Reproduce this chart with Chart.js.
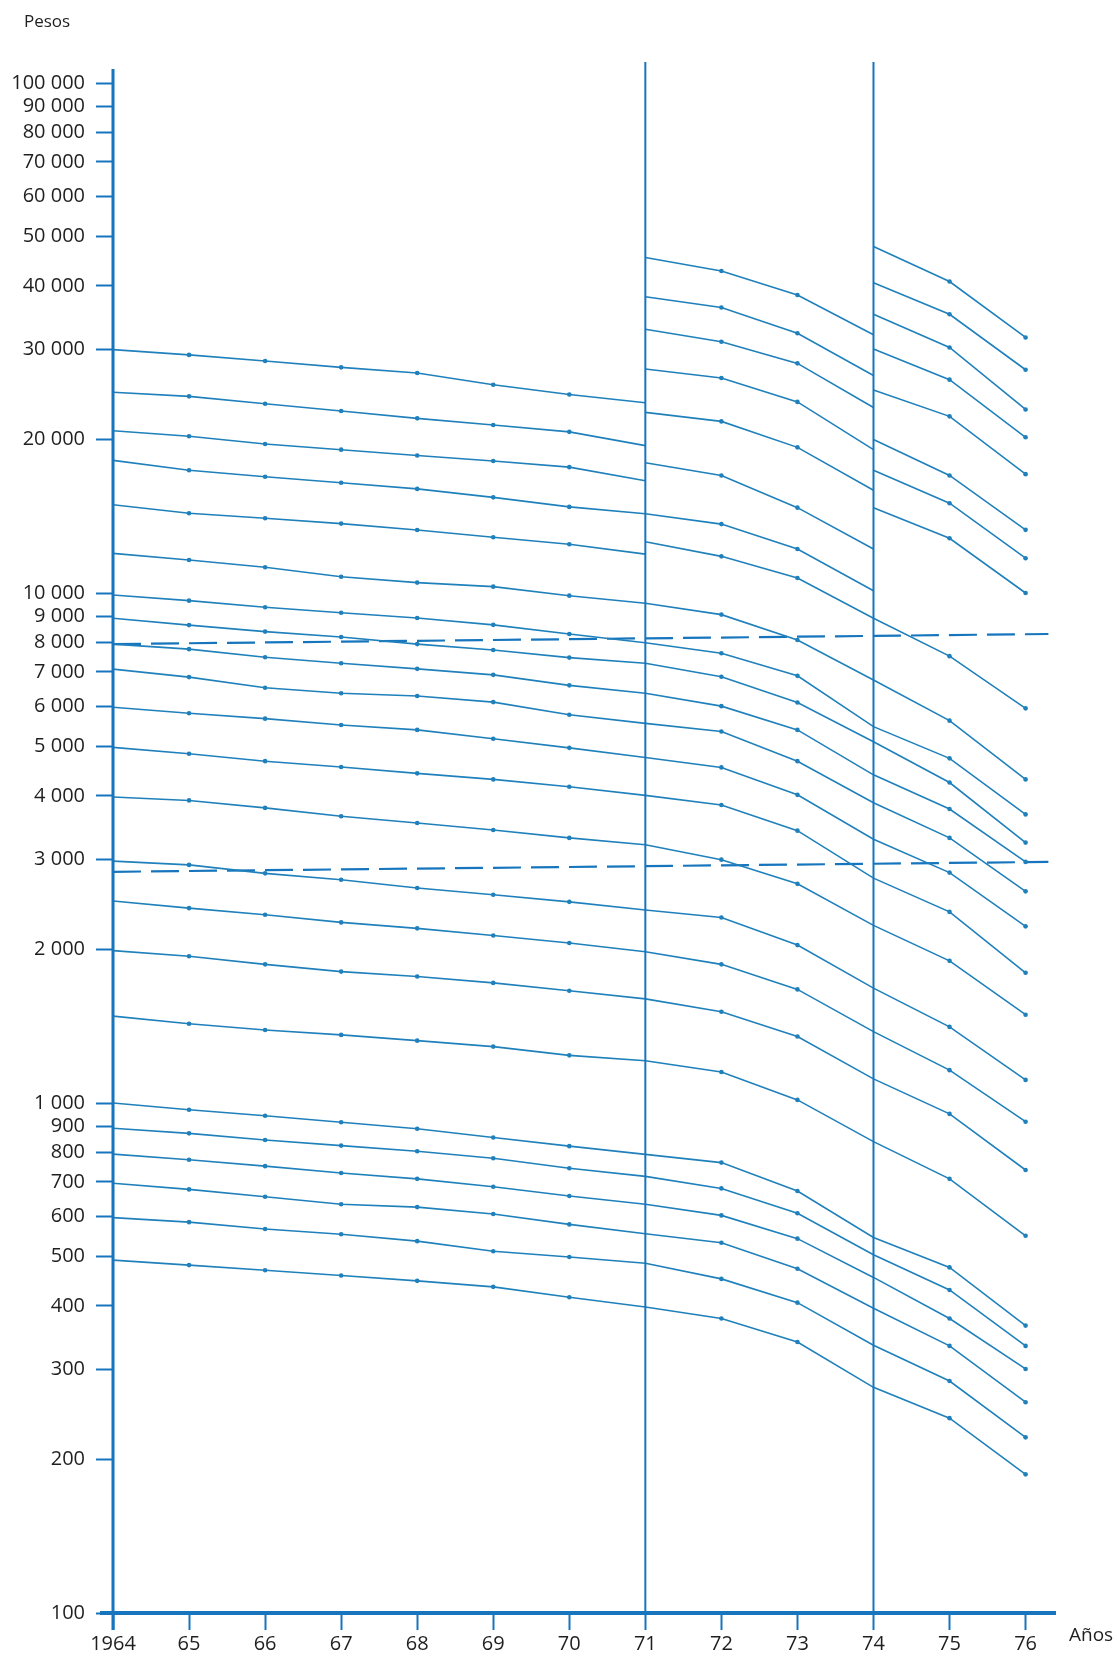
<!DOCTYPE html>
<html>
<head>
<meta charset="utf-8">
<script src="https://cdn.jsdelivr.net/npm/chart.js@4.4.0/dist/chart.umd.min.js"></script>
<style>
  html, body { margin: 0; padding: 0; background: #fff; }
  #wrap { width: 1119px; height: 1657px; }
</style>
</head>
<body>
<div id="wrap"><canvas id="chart" width="1119" height="1657"></canvas></div>
<script>
// --- Data ---
const years = [1964, 1965, 1966, 1967, 1968, 1969, 1970, 1971, 1972, 1973, 1974, 1975, 1976];
const yTicks = [100, 200, 300, 400, 500, 600, 700, 800, 900,
  1000, 2000, 3000, 4000, 5000, 6000, 7000, 8000, 9000,
  10000, 20000, 30000, 40000, 50000, 60000, 70000, 80000, 90000, 100000];
const breakYears = [1971, 1974];

// lines drawn from 1964 (one value per year, null where the line stops)
const lines1964 = [
  [30000, 29300, 28500, 27700, 27000, 25600, 24500, 23600, null, null, null, null, null],
  [24750, 24300, 23500, 22750, 22000, 21350, 20700, 19450, null, null, null, null, null],
  [20800, 20300, 19600, 19100, 18600, 18150, 17650, 16600, null, null, null, null, null],
  [18200, 17400, 16900, 16450, 16000, 15400, 14750, 14300, 13650, 12200, 10100, null, null],
  [14900, 14330, 14010, 13680, 13290, 12860, 12460, 11920, null, null, null, null, null],
  [11960, 11610, 11230, 10760, 10480, 10290, 9880, 9550, 9070, 8090, 6750, 5620, 4310],
  [9910, 9660, 9380, 9150, 8930, 8660, 8310, 7990, 7620, 6880, 5470, 4740, 3680],
  [8920, 8650, 8400, 8200, 7940, 7730, 7470, 7280, 6850, 6100, 5110, 4250, 3240],
  [7940, 7760, 7480, 7280, 7100, 6910, 6590, 6360, 6000, 5390, 4400, 3770, 2970],
  [7090, 6840, 6520, 6360, 6280, 6110, 5770, 5550, 5350, 4680, 3880, 3310, 2600],
  [5970, 5810, 5670, 5510, 5390, 5180, 4970, 4760, 4550, 4020, 3290, 2830, 2220],
  [4980, 4840, 4680, 4560, 4430, 4310, 4170, 4010, 3840, 3420, 2760, 2370, 1800],
  [3980, 3920, 3790, 3650, 3540, 3430, 3310, 3210, 3000, 2690, 2230, 1900, 1490],
  [2980, 2930, 2820, 2740, 2640, 2560, 2480, 2390, 2310, 2040, 1680, 1410, 1110],
  [2490, 2410, 2340, 2260, 2200, 2130, 2060, 1980, 1870, 1670, 1380, 1160, 919],
  [1990, 1940, 1870, 1810, 1770, 1720, 1660, 1600, 1510, 1350, 1115, 952, 739],
  [1480, 1430, 1390, 1360, 1325, 1290, 1240, 1210, 1150, 1014, 840, 710, 549],
  [1000, 970, 944, 917, 890, 856, 823, 793, 764, 672, 545, 476, 366],
  [892, 872, 846, 825, 804, 779, 745, 718, 680, 608, 504, 430, 334],
  [794, 774, 752, 729, 710, 685, 657, 633, 602, 542, 455, 378, 301],
  [696, 677, 655, 633, 625, 606, 578, 554, 532, 473, 396, 334, 259],
  [596, 584, 566, 553, 536, 512, 499, 485, 452, 406, 335, 285, 221],
  [492, 481, 470, 459, 448, 436, 416, 398, 378, 340, 277, 241, 187]
];

// lines that start at 1971 (values from 1971 on)
const lines1971 = [
  [45500, 42800, 38400, 32100],
  [38100, 36300, 32300, 26700],
  [32900, 31100, 28200, 23100],
  [27500, 26400, 23700, 19100],
  [22600, 21700, 19300, 15900],
  [18000, 17000, 14700, 12200],
  [12600, 11800, 10700, 8920, 7520, 5940]
];

// lines that start at 1974 (values from 1974 on)
const lines1974 = [
  [47800, 40800, 31700],
  [40600, 35200, 27400],
  [35200, 30300, 22900],
  [30100, 26200, 20200],
  [25000, 22200, 17100],
  [20000, 17000, 13300],
  [17400, 15000, 11700],
  [14700, 12800, 10000]
];

// the two dashed reference lines
const guideYears = [1964, 1976.3];
const guideUpper = [7940, 8310];
const guideLower = [2840, 2970];

// --- Styles ---
const LINE_BLUE = '#1f80bb';
const AXIS_BLUE = '#1675bd';
const TEXT = '#1f1f1f';
const FONT = "'Open Sans', sans-serif";

const fmt = v => String(v).replace(/\B(?=(\d{3})+(?!\d))/g, ' ');

const toPoints = (startYear, values) => values.map((v, i) => ({ x: startYear + i, y: v }));

const seriesDataset = points => ({
  data: points,
  borderColor: LINE_BLUE,
  backgroundColor: LINE_BLUE,
  borderWidth: 1.6,
  pointRadius: ctx => {
    const x = ctx.raw ? ctx.raw.x : null;
    return (x === years[0] || breakYears.includes(x)) ? 0 : 2.3;
  },
  pointHoverRadius: 0,
  pointBorderWidth: 0,
  tension: 0,
  fill: false
});

const guideDataset = vals => ({
  data: guideYears.map((x, i) => ({ x, y: vals[i] })),
  borderColor: AXIS_BLUE,
  borderWidth: 2.2,
  borderDash: [28, 10],
  pointRadius: 0,
  fill: false
});

const datasets = [
  ...lines1964.map(v => seriesDataset(toPoints(1964, v))),
  ...lines1971.map(v => seriesDataset(toPoints(1971, v))),
  ...lines1974.map(v => seriesDataset(toPoints(1974, v))),
  guideDataset(guideUpper),
  guideDataset(guideLower)
];

// --- Axis frame, break lines and axis titles ---
const framePlugin = {
  id: 'frame',
  afterDatasetsDraw(chart) {
    const { ctx, chartArea, scales } = chart;
    ctx.save();
    ctx.strokeStyle = AXIS_BLUE;

    ctx.lineWidth = 3;
    ctx.beginPath();
    ctx.moveTo(chartArea.left, chartArea.top - 14);
    ctx.lineTo(chartArea.left, chartArea.bottom + 17);
    ctx.stroke();

    ctx.lineWidth = 2;
    breakYears.forEach(yr => {
      const x = scales.x.getPixelForValue(yr);
      ctx.beginPath();
      ctx.moveTo(x, chartArea.top - 21);
      ctx.lineTo(x, chartArea.bottom);
      ctx.stroke();
    });

    ctx.lineWidth = 4;
    ctx.beginPath();
    ctx.moveTo(chartArea.left - 13, chartArea.bottom);
    ctx.lineTo(chartArea.right, chartArea.bottom);
    ctx.stroke();

    ctx.fillStyle = TEXT;
    ctx.textBaseline = 'middle';
    ctx.textAlign = 'left';
    ctx.font = `17px ${FONT}`;
    ctx.fillText('Pesos', 24, 22);
    ctx.font = `19px ${FONT}`;
    ctx.fillText('Años', chartArea.right + 13, chartArea.bottom + 23);
    ctx.restore();
  }
};

new Chart(document.getElementById('chart').getContext('2d'), {
  type: 'line',
  data: { datasets },
  options: {
    responsive: false,
    devicePixelRatio: 1,
    animation: false,
    layout: { padding: { top: 83, right: 63, bottom: 0, left: 0 } },
    plugins: { legend: { display: false }, tooltip: { enabled: false } },
    scales: {
      x: {
        type: 'linear',
        min: 1964,
        max: 1976.4,
        afterBuildTicks: s => { s.ticks = years.map(v => ({ value: v })); },
        afterFit: s => { s.height = 44; },
        border: { display: false },
        grid: { drawOnChartArea: false, tickLength: 17, tickWidth: 2, tickColor: AXIS_BLUE },
        ticks: {
          callback: v => v === 1964 ? '1964' : String(v).slice(2),
          font: { family: FONT, size: 20 },
          color: TEXT,
          padding: 2,
          maxRotation: 0,
          autoSkip: false
        }
      },
      y: {
        type: 'logarithmic',
        min: 100,
        max: 100000,
        afterBuildTicks: s => { s.ticks = yTicks.map(v => ({ value: v })); },
        afterFit: s => { s.width = 113; },
        border: { display: false },
        grid: { drawOnChartArea: false, tickLength: 17, tickWidth: 2, tickColor: AXIS_BLUE },
        ticks: {
          callback: v => fmt(v),
          font: { family: FONT, size: 20 },
          color: TEXT,
          padding: 11,
          autoSkip: false
        }
      }
    }
  },
  plugins: [framePlugin]
});
</script>
</body>
</html>
